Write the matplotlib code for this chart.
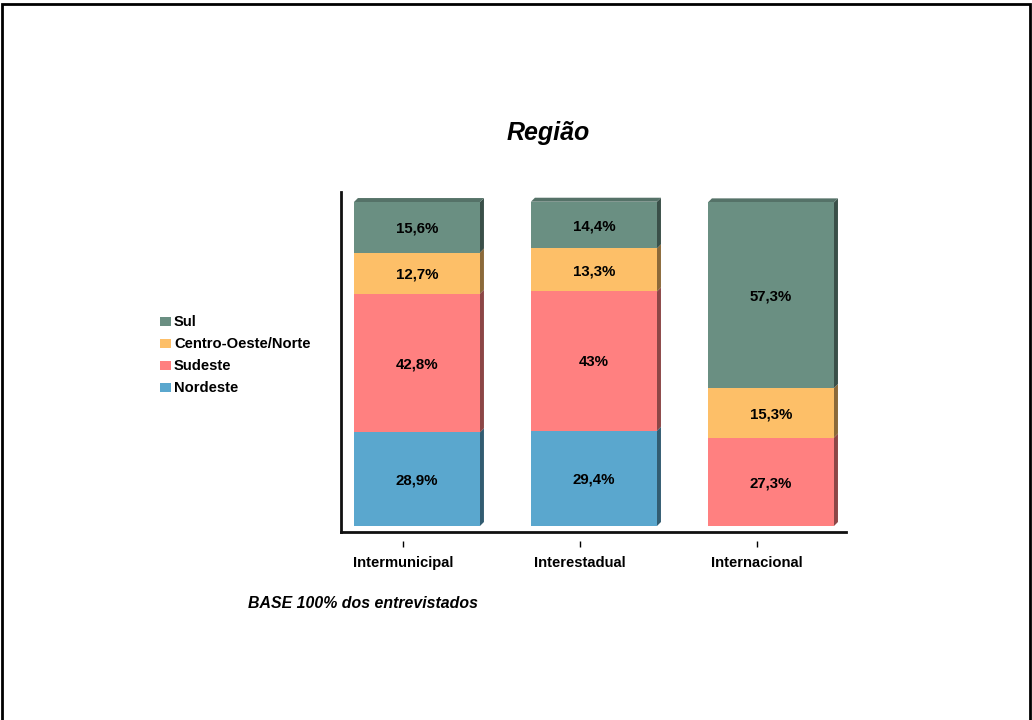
import matplotlib
matplotlib.use("Agg")
import matplotlib.pyplot as plt
from matplotlib.patches import Rectangle, Polygon
import matplotlib.colors as mcolors
import numpy as np

plt.rcParams['font.family'] = ['Liberation Sans', 'DejaVu Sans']

# Data
categories = ["Intermunicipal", "Interestadual", "Internacional"]
series_names = ["Nordeste", "Sudeste", "Centro-Oeste/Norte", "Sul"]
nordeste = [28.9, 29.4, 0.0]
sudeste = [42.8, 43.0, 27.3]
centro_oeste_norte = [12.7, 13.3, 15.3]
sul = [15.6, 14.4, 57.3]
series_values = [nordeste, sudeste, centro_oeste_norte, sul]
series_colors = ["#5aa7ce", "#ff8080", "#fdbf68", "#6a8f82"]

title = "Região"
footnote = "BASE 100% dos entrevistados"

W, H = 1032, 720
fig = plt.figure(figsize=(W / 100, H / 100), dpi=100)

# Outer frame
fig.patches.append(Rectangle((1.5 / W, -0.05), (1030 - 1.5) / W, 1.05 - 3.5 / H,
                             transform=fig.transFigure, fill=False,
                             edgecolor="black", linewidth=2, zorder=0))

ax_l, ax_r, ax_t, ax_b = 341, 846, 192, 532
ax = fig.add_axes([ax_l / W, 1 - ax_b / H, (ax_r - ax_l) / W, (ax_b - ax_t) / H])

x = np.arange(len(categories))
ax.set_xlim(-0.350, 2.503)
ax.set_ylim(-1.85, 103.1)

bar_offset = 0.079
bar_width = 0.712
# depth of the 3D effect in data units
px_x = (2.503 + 0.350) / (ax_r - ax_l)
px_y = (103.1 + 1.85) / (ax_b - ax_t)
dx, dy = 4 * px_x, 4 * px_y


def shade(color, f):
    r, g, b = mcolors.to_rgb(color)
    return (r * f, g * f, b * f)


bottoms = np.zeros(len(categories))
for name, vals, col in zip(series_names, series_values, series_colors):
    vals = np.array(vals)
    ax.bar(x + bar_offset, vals, bar_width, bottom=bottoms, color=col,
           edgecolor="none", zorder=3, label=name)
    for i, v in enumerate(vals):
        if v <= 0:
            continue
        x1 = x[i] + bar_offset + bar_width / 2
        y0 = bottoms[i]
        y1 = bottoms[i] + v
        # side face
        ax.add_patch(Polygon([(x1, y0), (x1 + dx, y0 + dy), (x1 + dx, y1 + dy), (x1, y1)],
                             closed=True, facecolor=shade(col, 0.55),
                             edgecolor="none", zorder=2))
        txt = f"{v:.0f}%" if float(v).is_integer() else f"{v:.1f}%".replace(".", ",")
        ax.text(x[i] + bar_offset, y0 + v / 2 - 0.4, txt, ha="center", va="center",
                fontsize=10.8, fontweight="bold", color="black", zorder=5)
    bottoms = bottoms + vals

# top faces
for i, total in enumerate(bottoms):
    x0 = x[i] + bar_offset - bar_width / 2
    x1 = x[i] + bar_offset + bar_width / 2
    top_col = series_colors[-1]
    ax.add_patch(Polygon([(x0, total), (x0 + dx, total + dy), (x1 + dx, total + dy), (x1, total)],
                         closed=True, facecolor=shade(top_col, 0.8),
                         edgecolor="none", zorder=2))

for s in ["top", "right"]:
    ax.spines[s].set_visible(False)
ax.spines["left"].set_linewidth(2)
ax.spines["bottom"].set_linewidth(2)
ax.spines["left"].set_color("#111111")
ax.spines["bottom"].set_color("#111111")
ax.set_yticks([])
ax.set_xticks(x)
ax.set_xticklabels(categories, fontsize=10.6, fontweight="bold")
ax.tick_params(axis="x", length=0, pad=17)
# small separated tick marks below the axis line
tick_tr = matplotlib.transforms.blended_transform_factory(ax.transData, ax.transAxes)
ax.vlines(x, -15 / (ax_b - ax_t), -9 / (ax_b - ax_t),
          transform=tick_tr, color="black", linewidth=1, clip_on=False)

# Title and footnote
fig.text(548 / W, 1 - 133 / H, title, ha="center", va="center", fontsize=18,
         fontweight="bold", style="italic")
fig.text(248 / W, 1 - 603 / H, footnote, ha="left", va="center", fontsize=11.4,
         fontweight="bold", style="italic")

# Legend (top to bottom: Sul first)
leg_y = [322, 344, 366, 388]
for yy, name, col in zip(leg_y, series_names[::-1], series_colors[::-1]):
    fig.patches.append(Rectangle((160 / W, 1 - (yy + 4) / H), 11 / W, 9 / H,
                                 transform=fig.transFigure, facecolor=col,
                                 edgecolor="none"))
    fig.text(174 / W, 1 - yy / H, name, ha="left", va="center", fontsize=10.6,
             fontweight="bold")

fig.savefig("out.png", dpi=100, facecolor="white")
